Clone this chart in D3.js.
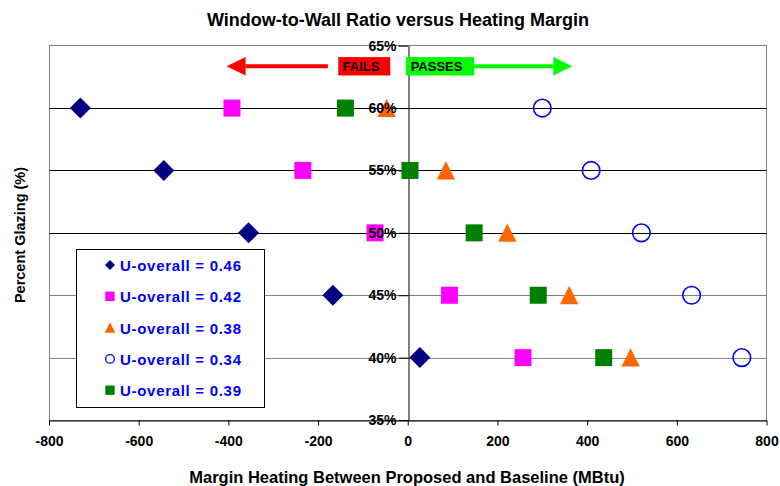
<!DOCTYPE html>
<html><head><meta charset="utf-8">
<script src="https://cdn.jsdelivr.net/npm/d3@7"></script>
<style>
body{margin:0;background:#fff;}
text{font-family:"Liberation Sans",Arial,sans-serif;}
</style></head>
<body><svg id="c" width="780" height="486"></svg>
<script>
const levels = [60, 55, 50, 45, 40];
const seriesNames = ["U-overall = 0.46","U-overall = 0.42","U-overall = 0.38","U-overall = 0.34","U-overall = 0.39"];
const u046 = [-730, -544, -355, -167, 27];
const u042 = [-392, -234, -73, 93, 257];
const u038 = [-47, 85, 222, 360, 497];
const u034 = [300, 409, 521, 633, 745];
const u039 = [-139, 5, 148, 291, 437];
const xTicks = [-800,-600,-400,-200,0,200,400,600,800];
const yTicks = [35,40,45,50,55,60,65];

const svg = d3.select("#c");
const x = d3.scaleLinear().domain([-800,800]).range([49,766.5]);
const y = d3.scaleLinear().domain([35,65]).range([420,45.7]);
const FF = "Liberation Sans, Arial, sans-serif";

// frame
svg.append("rect").attr("x",49.5).attr("y",45.5).attr("width",717).attr("height",375)
  .attr("fill","none").attr("stroke","#808080").attr("stroke-width",1);
// gridlines
[40,45,50,55,60].forEach(v=>{
  svg.append("line").attr("x1",49.5).attr("x2",766.5).attr("y1",Math.round(y(v))+0.5).attr("y2",Math.round(y(v))+0.5)
   .attr("stroke", v>=50 ? "#000" : "#808080").attr("stroke-width",1);
});
// x axis
const xa = svg.append("g").attr("transform",`translate(0,${Math.round(y(35))+0.5})`)
  .call(d3.axisBottom(x).tickValues(xTicks).tickSize(5).tickSizeOuter(0).tickPadding(11).tickFormat(d=>String(d)));
xa.select(".domain").attr("stroke","#000");
xa.selectAll("line").attr("stroke","#000");
xa.selectAll("text").attr("font-size",14).attr("font-weight","bold").attr("fill","#000").attr("font-family",FF);
// y axis at x=0 (line + ticks, labels later on top of markers)
const yAxis = d3.axisLeft(y).tickValues(yTicks).tickSize(10).tickSizeOuter(0).tickPadding(2).tickFormat(d=>d+"%");
const ya = svg.append("g").attr("transform",`translate(${Math.round(x(0))+0.5},0)`).call(yAxis);
ya.select(".domain").attr("stroke","#000");
ya.selectAll("line").attr("stroke","#000");
ya.selectAll("text").remove();

// arrows
const ann = svg.append("g");
function arrow(x1,x2,yy,col){
  const dir = Math.sign(x2-x1);
  const head = 19, hw = 9.2;
  ann.append("line").attr("x1",x1).attr("x2",x2-dir*head).attr("y1",yy).attr("y2",yy).attr("stroke",col).attr("stroke-width",4);
  ann.append("path").attr("d",`M${x2},${yy} L${x2-dir*head},${yy-hw} L${x2-dir*head},${yy+hw} Z`).attr("fill",col);
}
const ay = y(63.35);
arrow(x(-178), x(-404), ay, "#FF0000");
arrow(x(148), x(367), ay, "#00FF00");
ann.append("rect").attr("x",x(-155)).attr("y",ay-9.2).attr("width",x(-39)-x(-155)).attr("height",18.4).attr("fill","#FF0000");
ann.append("rect").attr("x",x(-4)).attr("y",ay-9.2).attr("width",x(148)-x(-4)).attr("height",18.4).attr("fill","#00FF00");
ann.append("text").attr("x",x(-155)+4.3).attr("y",ay+4.7).attr("font-size",13).attr("font-weight","bold").text("FAILS");
ann.append("text").attr("x",x(-4)+4.7).attr("y",ay+4.7).attr("font-size",13).attr("font-weight","bold").text("PASSES");

// markers
const defs = [
  {vals:u046, type:"diamond", fill:"#000080", stroke:"none"},
  {vals:u042, type:"square", fill:"#FF00FF", stroke:"none"},
  {vals:u038, type:"triangle", fill:"#FF6600", stroke:"none"},
  {vals:u034, type:"circle", fill:"none", stroke:"#0000FF"},
  {vals:u039, type:"square", fill:"#008000", stroke:"none"}
];
function shape(type, s){
  if(type==="diamond") return `M0,${-s} L${s},0 L0,${s} L${-s},0 Z`;
  if(type==="square") return `M${-s},${-s} H${s} V${s} H${-s} Z`;
  if(type==="triangle") return `M0,${-s*1.05} L${s*1.02},${s} L${-s*1.02},${s} Z`;
  return `M${s},0 A${s},${s} 0 1,1 ${-s},0 A${s},${s} 0 1,1 ${s},0 Z`;
}
const sizes = {diamond:10.5, square:8.5, triangle:9, circle:8.8};
defs.forEach(d=>{
  svg.append("g").selectAll("path").data(d.vals).join("path")
    .attr("transform",(v,i)=>`translate(${x(v)},${y(levels[i])})`)
    .attr("d", shape(d.type, sizes[d.type]))
    .attr("fill", d.fill).attr("stroke", d.stroke).attr("stroke-width",1.6);
});

// y tick labels on top of markers
const yl = svg.append("g").attr("transform",`translate(${Math.round(x(0))+0.5},0)`).call(yAxis);
yl.select(".domain").remove();
yl.selectAll("line").remove();
yl.selectAll("text").attr("font-size",14).attr("font-weight","bold").attr("fill","#000").attr("font-family",FF);

// legend
const lg = svg.append("g");
lg.append("rect").attr("x",76.5).attr("y",249.5).attr("width",188).attr("height",158).attr("fill","#fff").attr("stroke","#000").attr("stroke-width",1);
const lsizes = {diamond:5, square:4.7, triangle:5.2, circle:4.3};
defs.forEach((d,i)=>{
  const cy = 265 + i*31.3;
  lg.append("path").attr("transform",`translate(110,${cy})`).attr("d",shape(d.type,lsizes[d.type]))
    .attr("fill",d.fill).attr("stroke",d.stroke).attr("stroke-width",1.3);
  lg.append("text").attr("x",120).attr("y",cy+6).attr("font-size",15).attr("letter-spacing","0.7px").attr("font-weight","bold").attr("fill","#0000FF").text(seriesNames[i]);
});

// titles
svg.append("text").attr("x",398).attr("y",26).attr("text-anchor","middle").attr("font-size",18).attr("font-weight","bold").text("Window-to-Wall Ratio versus Heating Margin");
svg.append("text").attr("x",407).attr("y",483).attr("text-anchor","middle").attr("font-size",16.5).attr("font-weight","bold").text("Margin Heating Between Proposed and Baseline (MBtu)");
svg.append("text").attr("transform","translate(25,235) rotate(-90)").attr("text-anchor","middle").attr("font-size",14.5).attr("font-weight","bold").text("Percent Glazing (%)");
</script></body></html>
